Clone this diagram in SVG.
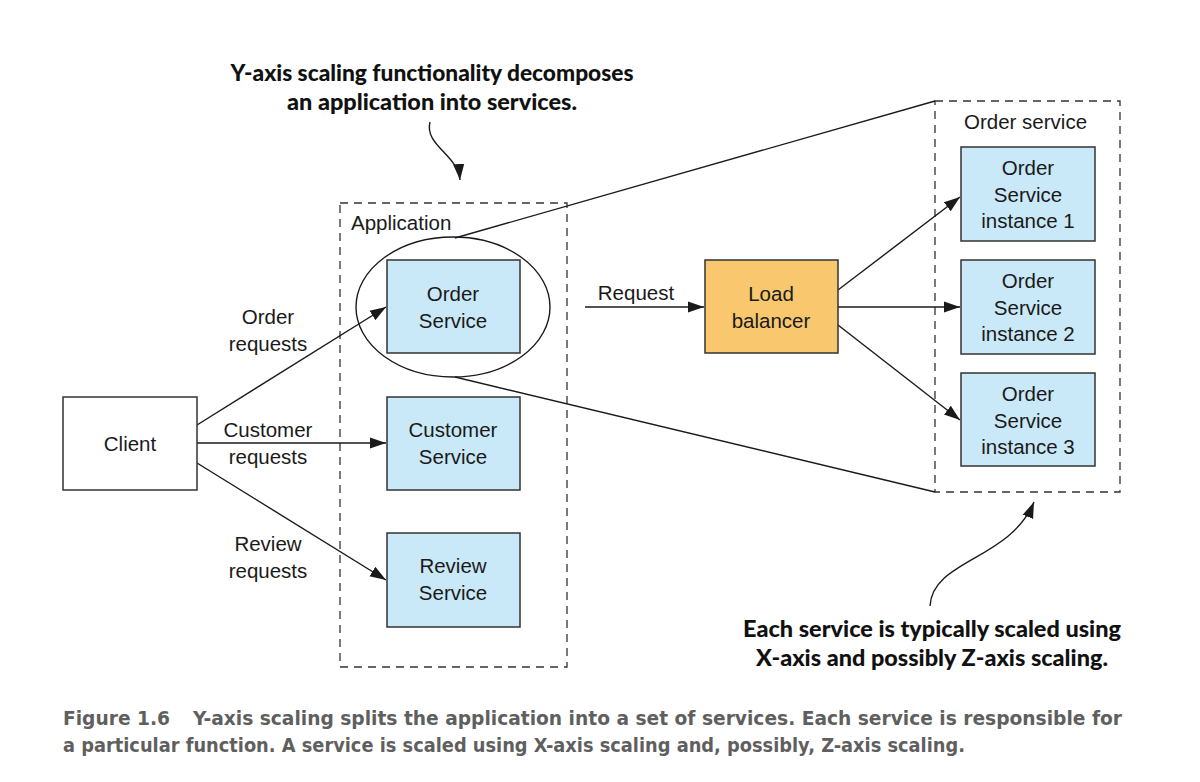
<svg xmlns="http://www.w3.org/2000/svg" width="1200" height="782" viewBox="0 0 1200 782">
<style>
.t{font-family:"Liberation Sans",Arial,sans-serif;font-size:20.5px;fill:#1a1a1a}
.c{text-anchor:middle}
.box{stroke:#333;stroke-width:1.5}
.svc{fill:#c9e9f8}
.dash{fill:none;stroke:#333;stroke-width:1.3;stroke-dasharray:8 6}
.ln{fill:none;stroke:#1a1a1a;stroke-width:1.4}
.call{font-family:Lato,"DejaVu Sans",sans-serif;font-weight:900;font-size:22.5px;fill:#111;text-anchor:middle}
.cap{font-family:"DejaVu Sans Condensed","DejaVu Sans",sans-serif;font-weight:bold;font-size:19px;fill:#5f5f5f}
</style>
<defs>
<marker id="ah" viewBox="0 0 10 10" refX="10" refY="5" markerWidth="16" markerHeight="16" markerUnits="userSpaceOnUse" orient="auto">
<path d="M0,1.5 L10,5 L0,8.5 Z" fill="#1a1a1a"/>
</marker>
</defs>
<rect width="1200" height="782" fill="#fff"/>

<g id="application">
<rect class="dash" x="340" y="203" width="227" height="464"/>
<text class="t" x="351" y="230">Application</text>
</g>
<g id="order-service-group">
<rect class="dash" x="935" y="101" width="185" height="391"/>
<text class="t" x="964" y="129">Order service</text>
</g>

<g id="connectors">
<path class="ln" d="M455,238 L935,101"/>
<path class="ln" d="M455,377 L935,492"/>
<path class="ln" d="M197,425 L386,307" marker-end="url(#ah)"/>
<path class="ln" d="M197,443 L386,443" marker-end="url(#ah)"/>
<path class="ln" d="M197,463 L386,580" marker-end="url(#ah)"/>
<path class="ln" d="M585,307 L704,307" marker-end="url(#ah)"/>
<path class="ln" d="M838,290 L960,197" marker-end="url(#ah)"/>
<path class="ln" d="M838,307 L960,307" marker-end="url(#ah)"/>
<path class="ln" d="M838,325 L960,420" marker-end="url(#ah)"/>
<path class="ln" d="M430,122 C424,145 458,155 460,180" marker-end="url(#ah)"/>
<path class="ln" d="M930,606 C932,560 1010,560 1034,502" marker-end="url(#ah)"/>
<text class="t c" x="268" y="324">Order</text>
<text class="t c" x="268" y="351">requests</text>
<text class="t c" x="268" y="437">Customer</text>
<text class="t c" x="268" y="464">requests</text>
<text class="t c" x="268" y="551">Review</text>
<text class="t c" x="268" y="578">requests</text>
<text class="t c" x="636" y="300">Request</text>
</g>

<g id="ellipse">
<ellipse cx="453" cy="307" rx="97" ry="70" fill="none" stroke="#1a1a1a" stroke-width="1.4"/>
</g>

<g id="client">
<rect class="box" x="63" y="397" width="134" height="93" fill="#fff"/>
<text class="t c" x="130" y="451">Client</text>
</g>
<g id="order-service">
<rect class="box svc" x="387" y="260" width="133" height="93"/>
<text class="t c" x="453" y="301">Order</text>
<text class="t c" x="453" y="328">Service</text>
</g>
<g id="customer-service">
<rect class="box svc" x="387" y="397" width="133" height="93"/>
<text class="t c" x="453" y="437">Customer</text>
<text class="t c" x="453" y="464">Service</text>
</g>
<g id="review-service">
<rect class="box svc" x="387" y="533" width="133" height="94"/>
<text class="t c" x="453" y="573">Review</text>
<text class="t c" x="453" y="600">Service</text>
</g>
<g id="load-balancer">
<rect class="box" x="705" y="260" width="133" height="93" fill="#f9c86e"/>
<text class="t c" x="771" y="301">Load</text>
<text class="t c" x="771" y="328">balancer</text>
</g>
<g id="instance-1">
<rect class="box svc" x="961" y="147" width="134" height="94"/>
<text class="t c" x="1028" y="175">Order</text>
<text class="t c" x="1028" y="202">Service</text>
<text class="t c" x="1028" y="228">instance 1</text>
</g>
<g id="instance-2">
<rect class="box svc" x="961" y="260" width="134" height="94"/>
<text class="t c" x="1028" y="288">Order</text>
<text class="t c" x="1028" y="315">Service</text>
<text class="t c" x="1028" y="341">instance 2</text>
</g>
<g id="instance-3">
<rect class="box svc" x="961" y="373" width="134" height="93"/>
<text class="t c" x="1028" y="401">Order</text>
<text class="t c" x="1028" y="428">Service</text>
<text class="t c" x="1028" y="454">instance 3</text>
</g>

<g id="callouts">
<text class="call" x="432" y="81" textLength="403" lengthAdjust="spacingAndGlyphs">Y-axis scaling functionality decomposes</text>
<text class="call" x="432" y="110" textLength="290" lengthAdjust="spacingAndGlyphs">an application into services.</text>
<text class="call" x="932" y="637" textLength="378" lengthAdjust="spacingAndGlyphs">Each service is typically scaled using</text>
<text class="call" x="932" y="666" textLength="352" lengthAdjust="spacingAndGlyphs">X-axis and possibly Z-axis scaling.</text>
</g>

<g id="caption">
<text class="cap" x="63" y="725" textLength="107" lengthAdjust="spacingAndGlyphs">Figure 1.6</text>
<text class="cap" x="193" y="725" textLength="929" lengthAdjust="spacingAndGlyphs">Y-axis scaling splits the application into a set of services. Each service is responsible for</text>
<text class="cap" x="63" y="752" textLength="902" lengthAdjust="spacingAndGlyphs">a particular function. A service is scaled using X-axis scaling and, possibly, Z-axis scaling.</text>
</g>
</svg>
